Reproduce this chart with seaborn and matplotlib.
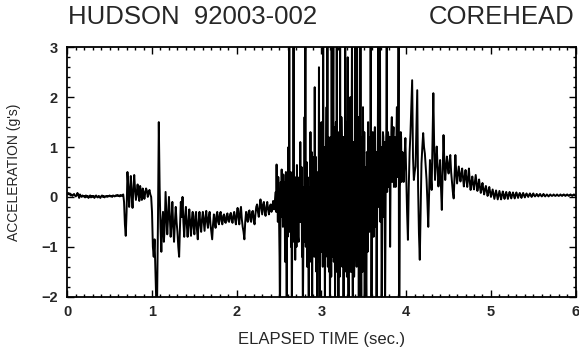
import numpy as np
import pandas as pd
import matplotlib
matplotlib.use("Agg")
import matplotlib.pyplot as plt
from matplotlib.ticker import MultipleLocator
import seaborn as sns

# ---- data (acceleration in g's) ----
DT = 0.01          # sample step outside the impact burst
DT_BURST = 0.005   # finer reading inside the impact burst
seg0_start = 0.00
seg0 = [0.06, 0.08, 0.05, 0.07, 0.03, 0.05, 0.02, 0.04, 0.06, 0.03,
        0.01, 0.03, 0.08, 0.04, -0.02, 0.05, 0.02, 0.00, 0.03, 0.01,
        0.02, -0.01, 0.03, 0.00, 0.02, -0.02, 0.01, 0.03, -0.01, 0.02,
        0.00, 0.02, -0.02, 0.01, 0.03, 0.00, -0.01, 0.02, 0.01, -0.02,
        0.01, 0.03, 0.00, 0.02, -0.01, 0.01, 0.02, 0.00, 0.02, 0.01,
        0.03, 0.01, 0.02, 0.00, 0.03, 0.02, 0.01, 0.03, 0.02, 0.04,
        0.02, 0.03, 0.01, 0.04, 0.02, 0.03, 0.05]
seg1_start = 0.67
seg1 = [-0.1, -0.55, -0.78, -0.3, 0.5, 0.2, -0.2, 0.1, 0.42, 0.05,
        -0.22, 0.15, 0.44, 0.15, -0.06, 0.1, 0.25, 0.05, -0.08, 0.22,
        0.05, -0.06, 0.17, 0.1, -0.04, 0.08, 0.17, 0.12, 0.0, 0.1,
        0.14, 0.05, 0.0, -0.3,
        -1.0, -1.2, -0.85, -1.5, -2.1, -2.1, -0.5, 1.5, 0.2, -0.6,
        -1.1, -0.5, -0.3, -0.9, -0.6, 0.1, -0.3, -0.75, -0.4, 0.0,
        -0.4, -0.8, -0.5, -0.1, -0.6, -0.9, -0.5, -0.2, -0.5, -0.7,
        -1.0, -1.2, -0.6, -0.1, -0.4, 0.0, -0.5, -0.8, -0.4, -0.2]
seg2_start = 1.41
seg2 = [-0.55, -0.8, -0.5, -0.25, -0.55, -0.78, -0.45, -0.3, -0.6, -0.75,
        -0.4, -0.3, -0.65, -0.85, -0.5, -0.3, -0.55, -0.7, -0.45, -0.3,
        -0.5, -0.68, -0.42, -0.28, -0.5, -0.62, -0.4, -0.3, -0.55, -0.7,
        -0.85, -0.55, -0.35, -0.5, -0.62, -0.38, -0.3, -0.5, -0.55, -0.35,
        -0.3, -0.48, -0.55, -0.38, -0.35, -0.5, -0.52, -0.38, -0.33, -0.48,
        -0.5, -0.36, -0.32, -0.46, -0.52, -0.38, -0.3, -0.45, -0.55, -0.35,
        -0.22, -0.4, -0.55, -0.3, -0.2, -0.45, -0.6, -0.7, -0.85, -0.5,
        -0.3, -0.42, -0.5, -0.3, -0.27, -0.45, -0.5, -0.3, -0.28, -0.45,
        -0.55, -0.35, -0.2, -0.15, -0.3, -0.4, -0.2, -0.05, -0.2, -0.35,
        -0.15, -0.1, -0.3, -0.38, -0.2, -0.1, -0.25, -0.35, -0.2, -0.15,
        -0.3, -0.2, -0.08, -0.25, -0.1]
seg3_start = 2.46
seg3 = [0.1, -0.3, 0.65, -0.2, 0.2, -0.5, 0.4, 0.1, -0.6, -1.2,
        -2.5, -0.8, 0.3, -0.4, 0.55, -0.3, 0.0, -0.6, 0.45, -0.2,
        -0.5, 0.3, -1.3, -0.4, 0.5, -0.9, -2.5, 0.2, -0.8, 0.6,
        1.0, -0.5, 3.5, -0.7, 0.2, 0.5, -1.0, 0.3, -2.5, -0.6,
        0.5, -0.8, 3.5, -0.9, -0.3, 0.4, -1.26, 0.1, -0.66, -1.0,
        0.64, -0.4, 0.2, -0.8, -0.9, 0.3, 0.4, -0.5, 1.1, -0.2,
        -0.5, 0.6, -1.2, 0.2, -2.5, -1.1, 0.0, -0.9, 1.6, -0.6,
        3.5, -1.0, -0.2, 0.7, -1.4, 0.4, 0.3, -1.2, -2.5, 0.2,
        -0.4, -1.3, 1.3, -0.8, -0.6, 0.9, -2.5, 0.3, -1.0, 0.5,
        0.8, -1.2, 2.2, -0.7, -0.2, 0.8, -1.5, 0.2, -2.5, -0.5,
        0.5, -1.3, 2.6, -0.6, -2.5, 0.4, -0.8, 0.9, 1.5, -1.1,
        0.3, -1.4, 3.5, -0.3, -0.5, 1.0, -2.5, -0.2, -1.2, 0.8,
        1.8, -1.0, 3.5, -1.4, -0.3, 1.2, -1.5, 0.6, -2.5, -0.4,
        1.2, -1.6, 3.5, -1.2, 0.0, 1.5, 3.5, -1.3, -1.0, 1.4,
        -2.5, 0.5, 1.5, -1.5, 3.5, -1.0, -0.6, 1.3, -2.5, 0.2,
        0.8, -1.6, 3.5, -0.8, -1.2, 1.6, 1.0, -1.4, -0.5, 1.2,
        -2.5, -0.3, 1.2, -1.5, 3.5, -1.1, -0.4, 1.5, -1.6, 0.4,
        2.8, -1.3, -2.5, 0.9, 0.5, -1.5, 2.0, -0.6, -1.5, 1.3,
        3.5, -1.2, -2.5, 1.1, 0.6, -1.6, -1.0, 1.4, 3.5, -0.9,
        0.5, -1.4, 3.5, -0.5, -1.2, 1.6, -2.5, 0.3, 1.5, -1.3,
        3.5, -1.0, -2.5, 1.2, 0.8, -1.5, 1.8, -0.4, -1.0, 1.3,
        -2.5, 0.6, 0.5, -1.6, -2.5, 0.9, 0.8, -1.1, 1.5, -0.6,
        0.4, -0.7, 1.2, -0.5, 3.5, 0.2, -2.5, -0.6, -0.5, 1.3,
        1.0, -0.8, 0.2, 1.1, 1.4, -0.3, -0.6, 0.9, -2.5, -0.7,
        0.4, 1.3, 3.5, -0.2, 0.5, 1.2, 3.5, -0.5, 0.2, 1.0,
        -2.5, -0.8, 0.6, 1.3, 1.2, -0.4, 0.3, 1.1, -2.5, -0.6,
        0.9, 1.3, 3.5, 0.1, 0.6, 1.3, 1.2, 0.2, 0.4, 1.2,
        -1.0, 0.3, 0.8, 1.3, 1.6, 0.3, 0.6, 1.2, 1.4, 0.2,
        0.3, 1.2, 1.0, 0.2, 0.5, 1.3, 1.8, 0.4, 0.7, 1.3,
        3.5, -2.5, -2.5, 0.2, 0.4, 1.3, 1.2, 0.3, 0.5, 0.9]
seg4_start = 3.96
seg4 = [0.6, 0.3, 0.8, 1.18, 0.4, -0.3, -0.86, 0.2, 0.9, 1.28,
        1.8, 2.34, 0.8, 0.34, 0.5, 0.61, 1.4, 2.14, 0.2, -0.73,
        -1.26, -0.3, 0.67, 1.0, 1.28, 1.0, 0.87, 0.6, 0.34, -0.1,
        -0.6, 0.1, 0.74, 0.4, 0.14, 1.1, 2.08, 1.0, 0.34, 0.7,
        1.01, 0.6, 0.21, 0.5, 0.74, 0.2, -0.26, 0.5, 1.24, 0.7,
        0.34, 0.6, 0.81, 0.6, 0.47, 0.7, 0.84, 0.5, 0.3, 0.1,
        -0.03, 0.4, 0.84, 0.5, 0.27]
seg5_start = 4.61
seg5 = [0.45, 0.61, 0.45, 0.31, 0.45, 0.57, 0.4, 0.21, 0.4, 0.54,
        0.35, 0.2, 0.4, 0.57, 0.3, 0.14, 0.3, 0.41, 0.25, 0.15,
        0.3, 0.44, 0.28, 0.12, 0.22, 0.35, 0.2, 0.08, 0.18, 0.28,
        0.15, 0.05, 0.15, 0.22, 0.12, 0.02, 0.1, 0.2, 0.1, 0.0]
seg6_start = 5.01
seg6 = [0.08, 0.15, 0.05, -0.04, 0.05, 0.13, 0.04, -0.05, 0.04, 0.12,
        0.04, -0.05, 0.04, 0.11, 0.03, -0.04, 0.04, 0.1, 0.03, -0.04,
        0.04, 0.1, 0.03, -0.03, 0.04, 0.09, 0.03, -0.03, 0.04, 0.09,
        0.03, -0.02, 0.04, 0.08, 0.03, -0.02, 0.04, 0.08, 0.03, -0.01,
        0.04, 0.07, 0.03, 0.0, 0.04, 0.07, 0.03, 0.0, 0.04, 0.07,
        0.03, 0.01, 0.03, 0.06, 0.03, 0.01, 0.04, 0.06, 0.03, 0.01,
        0.03, 0.06, 0.03, 0.01, 0.03, 0.05, 0.03, 0.01, 0.03, 0.05,
        0.03, 0.02, 0.03, 0.05, 0.03, 0.02, 0.03, 0.05, 0.03, 0.02,
        0.03, 0.05, 0.03, 0.02, 0.04, 0.05, 0.03, 0.02, 0.04, 0.05,
        0.03, 0.02, 0.04, 0.05, 0.03, 0.02, 0.04, 0.05, 0.03, 0.03]

x_ticks = [0, 1, 2, 3, 4, 5, 6]
y_ticks = [-2, -1, 0, 1, 2, 3]
title_left = "HUDSON  92003-002"
title_right = "COREHEAD"
x_label = "ELAPSED TIME (sec.)"
y_label = "ACCELERATION (g's)"

segments = [(seg0_start, DT, seg0), (seg1_start, DT, seg1),
            (seg2_start, DT, seg2), (seg3_start, DT_BURST, seg3),
            (seg4_start, DT, seg4), (seg5_start, DT, seg5),
            (seg6_start, DT, seg6)]
times, vals = [], []
for start, step, v in segments:
    times.extend(start + step * np.arange(len(v)))
    vals.extend(v)
df = pd.DataFrame({"t": times, "a": vals})

# ---- plot ----
sns.set_style("white")
plt.rcParams["font.family"] = ["Liberation Sans", "DejaVu Sans"]

fig = plt.figure(figsize=(5.79, 3.47), dpi=100)
ax = fig.add_axes([0.1162, 0.145, 0.8781, 0.7187])
sns.lineplot(data=df, x="t", y="a", ax=ax, color="black", lw=1.4,
             estimator=None, sort=False)

ax.set_xlim(0, 6)
ax.set_ylim(-2, 3)
ax.set_xticks(x_ticks)
ax.set_yticks(y_ticks)
ax.xaxis.set_minor_locator(MultipleLocator(0.1))
ax.yaxis.set_minor_locator(MultipleLocator(0.2))
ax.tick_params(which="both", direction="in", top=True, right=True,
               bottom=True, left=True, color="black", width=1.0)
ax.tick_params(which="major", length=5, labelsize=10.5)
ax.tick_params(axis="x", which="major", pad=6)
ax.tick_params(axis="y", which="major", pad=7)
ax.tick_params(which="minor", length=2.5)
for lab in ax.get_xticklabels() + ax.get_yticklabels():
    lab.set_fontweight("bold")
for s in ax.spines.values():
    s.set_color("black")
    s.set_linewidth(1.3)

ax.set_xlabel(x_label, fontsize=12, labelpad=9)
ax.set_ylabel(y_label, fontsize=10, labelpad=14)

fig.text(0.117, 0.951, title_left, fontsize=18.5, ha="left", va="center")
fig.text(0.993, 0.951, title_right, fontsize=18.5, ha="right", va="center")

fig.savefig("out.png", dpi=100, facecolor="white")
